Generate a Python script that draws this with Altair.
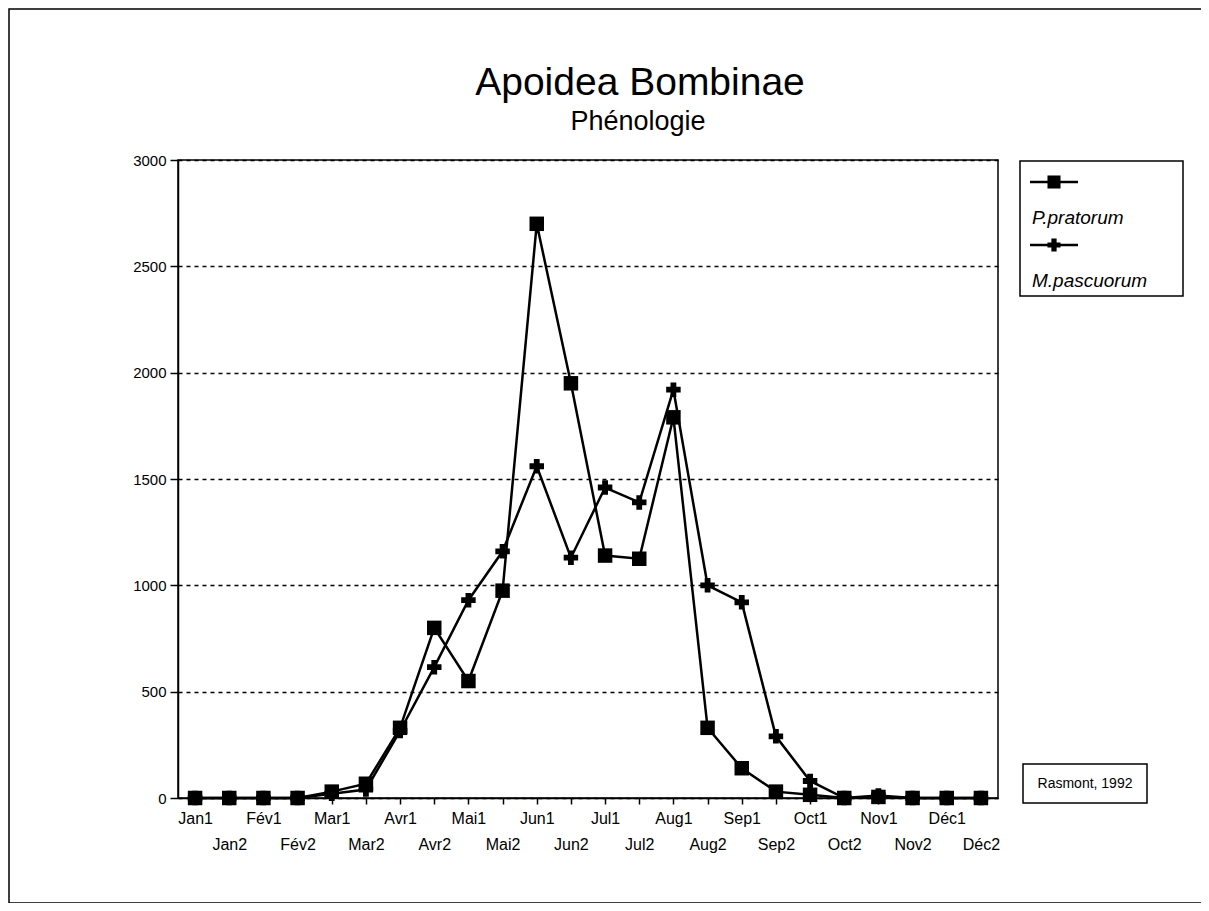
import altair as alt
import pandas as pd

# ---------------- data ----------------
categories = ["Jan1", "Jan2", "Fév1", "Fév2", "Mar1", "Mar2", "Avr1", "Avr2",
              "Mai1", "Mai2", "Jun1", "Jun2", "Jul1", "Jul2", "Aug1", "Aug2",
              "Sep1", "Sep2", "Oct1", "Oct2", "Nov1", "Nov2", "Déc1", "Déc2"]
series_names = ["P.pratorum", "M.pascuorum"]
pratorum = [0, 0, 0, 0, 30, 67, 330, 800, 550, 975, 2700, 1950,
            1140, 1125, 1790, 330, 140, 30, 15, 0, 5, 0, 0, 0]
pascuorum = [0, 0, 0, 0, 20, 40, 315, 615, 930, 1160, 1560, 1130,
             1460, 1390, 1920, 1000, 920, 290, 80, 0, 12, 0, 0, 0]
y_ticks = [0, 500, 1000, 1500, 2000, 2500, 3000]
title_text = "Apoidea Bombinae"
subtitle_text = "Phénologie"
credit_text = "Rasmont, 1992"

df = pd.DataFrame({
    "period": categories * 2,
    "count": pratorum + pascuorum,
    "species": [series_names[0]] * len(categories) + [series_names[1]] * len(categories),
})
one = pd.DataFrame({"k": [0]})

FONT = "Liberation Sans"
W, H = 820, 638

cat_js = "[" + ",".join("'" + c + "'" for c in categories) + "]"
label_expr = "indexof(" + cat_js + ", datum.value) % 2 == 0 ? datum.value : ['', datum.value]"

x_enc = alt.X(
    "period:N", sort=categories,
    scale=alt.Scale(type="point", padding=0.5),
    axis=alt.Axis(title=None, labelExpr=label_expr, labelAngle=0, labelFontSize=16,
                  labelFont=FONT, labelColor="black", labelPadding=6,
                  labelLineHeight=26, labelOverlap=False, tickSize=6,
                  tickColor="black", tickWidth=1.5, domainColor="black",
                  domainWidth=1.5, grid=False),
)
y_enc = alt.Y(
    "count:Q", scale=alt.Scale(domain=[0, 3000], nice=False),
    axis=alt.Axis(title=None, values=y_ticks, format="d", labelFontSize=15,
                  labelFont=FONT, labelColor="black", labelPadding=4, tickSize=8,
                  tickColor="black", tickWidth=1.5, domainColor="black",
                  domainWidth=1.5, grid=True, gridColor="black", gridDash=[4, 4],
                  gridWidth=1.6),
)

base = alt.Chart(df)
lines = base.mark_line(color="black", strokeWidth=2.5).encode(
    x=x_enc, y=y_enc, detail="species:N")
points = base.mark_point(filled=True, size=210, opacity=1, color="black").encode(
    x=x_enc, y=y_enc,
    shape=alt.Shape("species:N",
                    scale=alt.Scale(domain=series_names, range=["square", "cross"]),
                    legend=None))

# ---------------- decorations ----------------
def text(t, x, y, size, style="normal", align="center", baseline="alphabetic"):
    return alt.Chart(one).mark_text(
        text=t, font=FONT, fontSize=size, fontStyle=style, align=align,
        baseline=baseline, color="black").encode(x=alt.value(x), y=alt.value(y))

def box(x1, x2, y1, y2, w=1.5):
    return alt.Chart(one).mark_rect(fill="white", fillOpacity=0, stroke="black",
                                    strokeWidth=w).encode(
        x=alt.value(x1), x2=alt.value(x2), y=alt.value(y1), y2=alt.value(y2))

def rule(x1, x2, y):
    return alt.Chart(one).mark_rule(color="black", strokeWidth=2.5).encode(
        x=alt.value(x1), x2=alt.value(x2), y=alt.value(y))

def marker(shape, x, y):
    return alt.Chart(one).mark_point(shape=shape, filled=True, size=170, opacity=1,
                                     color="black").encode(x=alt.value(x), y=alt.value(y))

outer = box(-169, 1026, -151, 743)
title = text(title_text, 462, -65, 39)
subtitle = text(subtitle_text, 460, -30, 27)

legend_box = box(842, 1005, 1, 136)
leg1_line = rule(852, 900, 22)
leg1_mark = marker("square", 876, 22)
leg1_text = text(series_names[0], 854, 64, 19, style="italic", align="left")
leg2_line = rule(852, 900, 85)
leg2_mark = marker("cross", 876, 85)
leg2_text = text(series_names[1], 854, 127, 19, style="italic", align="left")

credit_box = box(845, 969, 604, 643)
credit = text(credit_text, 907, 624, 14, baseline="middle")

chart = alt.layer(
    outer, lines, points, title, subtitle,
    legend_box, leg1_line, leg1_mark, leg1_text,
    leg2_line, leg2_mark, leg2_text, credit_box, credit,
).properties(
    width=W, height=H,
    autosize=alt.AutoSizeParams(type="none"),
    padding={"left": 170, "top": 152, "right": 203, "bottom": 105},
    background="white",
).configure_view(stroke="black", strokeWidth=1.5)

chart.save("out.html", embed_options={"renderer": "svg", "actions": False})
